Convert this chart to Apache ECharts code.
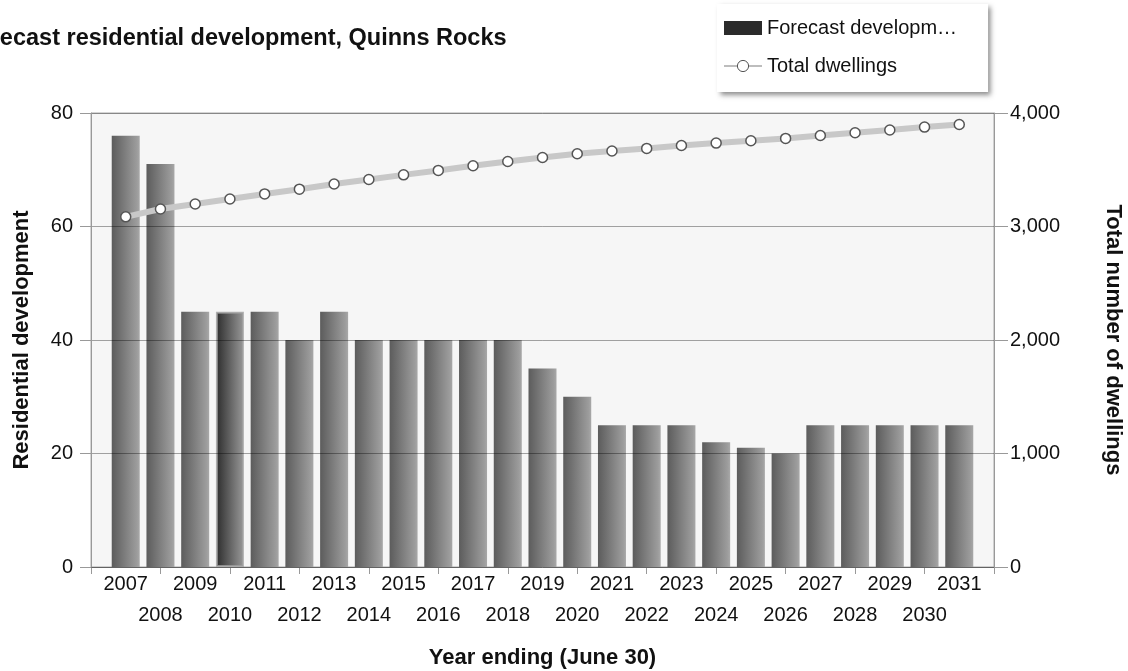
<!DOCTYPE html>
<html>
<head>
<meta charset="utf-8">
<script src="https://cdn.jsdelivr.net/npm/echarts@6/dist/echarts.min.js"></script>
<style>
    html, body { margin: 0; padding: 0; background: #fff; }
    #chart { width: 1128px; height: 671px; }
</style>
</head>
<body>
<div id="chart"></div>
<script>
    const years = ['2007', '2008', '2009', '2010', '2011', '2012', '2013', '2014', '2015', '2016',
        '2017', '2018', '2019', '2020', '2021', '2022', '2023', '2024', '2025', '2026',
        '2027', '2028', '2029', '2030', '2031'];
    const development = [76, 71, 45, 45, 45, 40, 45, 40, 40, 40, 40, 40, 35, 30, 25, 25, 25, 22, 21, 20, 25, 25, 25, 25, 25];
    const dwellings = [3085, 3154, 3198, 3242, 3287, 3329, 3374, 3414, 3455, 3494, 3535, 3573, 3608,
        3641, 3665, 3688, 3714, 3735, 3756, 3776, 3802, 3826, 3850, 3876, 3899];
    const highlightYear = '2010';

    // one empty slot each side so the plot has the half-gap padding of the original
    const firstPad = String(+years[0] - 1);
    const lastPad = String(+years[years.length - 1] + 1);
    const categories = [firstPad].concat(years, [lastPad]);

    const font = '"Liberation Sans", Arial, sans-serif';

    const barGrad = {
        type: 'linear', x: 0, y: 0, x2: 1, y2: 0,
        colorStops: [{ offset: 0, color: '#5c5c5c' }, { offset: 0.9, color: '#9c9c9c' }, { offset: 1, color: '#a8a8a8' }]
    };
    const barGradDark = {
        type: 'linear', x: 0, y: 0, x2: 1, y2: 0,
        colorStops: [{ offset: 0, color: '#2c2c2c' }, { offset: 1, color: '#999999' }]
    };

    const barData = [null].concat(development.map((v, i) => {
        if (years[i] === highlightYear) {
            return { value: v, itemStyle: { color: barGradDark, borderColor: 'rgba(160,160,160,0.8)', borderWidth: 2 } };
        }
        return v;
    }), [null]);
    const lineData = [null].concat(dwellings, [null]);

    var option = {
        textStyle: { fontFamily: font },
        animation: false,
        title: {
            text: 'Forecast residential development, Quinns Rocks',
            left: -38,
            top: 27,
            padding: 0,
            textStyle: { fontSize: 23.5, fontWeight: 'bold', color: '#111', fontFamily: font }
        },
        legend: {
            orient: 'vertical',
            left: 717,
            top: 4,
            padding: [14, 31, 16, 6],
            itemWidth: 38,
            itemHeight: 14,
            itemGap: 18,
            backgroundColor: '#fff',
            shadowColor: 'rgba(0,0,0,0.45)',
            shadowBlur: 5,
            shadowOffsetX: 3,
            shadowOffsetY: 3,
            textStyle: { fontSize: 20, color: '#111', fontFamily: font },
            formatter: function (name) {
                return name === 'Forecast development' ? 'Forecast developm\u2026' : name;
            },
            data: [
                { name: 'Forecast development', icon: 'rect', itemStyle: { color: '#2b2b2b' } },
                { name: 'Total dwellings', lineStyle: { width: 2, color: '#bdbdbd' },
                    itemStyle: { color: '#fff', borderColor: '#555', borderWidth: 1 } }
            ]
        },
        grid: {
            left: 91,
            right: 134,
            top: 113,
            bottom: 104,
            containLabel: false,
            outerBoundsMode: 'none',
            show: true,
            backgroundColor: '#f6f6f6',
            borderColor: '#aaa',
            borderWidth: 1
        },
        xAxis: {
            type: 'category',
            data: categories,
            boundaryGap: false,
            name: 'Year ending (June 30)',
            nameLocation: 'middle',
            nameGap: 80,
            nameTextStyle: { fontSize: 22, fontWeight: 'bold', color: '#111' },
            axisLine: { lineStyle: { color: '#999' } },
            axisTick: { interval: 1, length: 7, lineStyle: { color: '#999' } },
            axisLabel: {
                interval: 0,
                fontSize: 20,
                color: '#111',
                margin: 2,
                lineHeight: 31,
                formatter: function (v, i) {
                    if (v === firstPad || v === lastPad) return '';
                    return i % 2 === 1 ? v : '\n' + v;
                }
            },
            splitLine: { show: false }
        },
        yAxis: [{
            type: 'value',
            min: 0,
            max: 80,
            interval: 20,
            z: 3,
            name: 'Residential development',
            nameLocation: 'middle',
            nameRotate: 90,
            nameGap: 58,
            nameTextStyle: { fontSize: 22, fontWeight: 'bold', color: '#111' },
            axisLine: { show: true, lineStyle: { color: '#999' } },
            axisTick: { show: true, length: 11, lineStyle: { color: '#999' } },
            axisLabel: { fontSize: 20, color: '#111', margin: 18 },
            splitLine: { lineStyle: { color: 'rgba(0,0,0,0.35)' } }
        }, {
            type: 'value',
            min: 0,
            max: 4000,
            interval: 1000,
            position: 'right',
            name: 'Total number of dwellings',
            nameLocation: 'middle',
            nameRotate: -90,
            nameGap: 108,
            nameTextStyle: { fontSize: 22, fontWeight: 'bold', color: '#111' },
            axisLine: { show: true, lineStyle: { color: '#999' } },
            axisTick: { show: true, length: 14, lineStyle: { color: '#999' } },
            axisLabel: {
                fontSize: 20, color: '#111', margin: 16,
                formatter: function (v) { return v.toLocaleString('en-US'); }
            },
            splitLine: { show: false }
        }],
        series: [{
            name: 'Forecast development',
            type: 'bar',
            yAxisIndex: 0,
            barWidth: 28,
            z: 2,
            itemStyle: { color: barGrad },
            data: barData
        }, {
            name: 'Total dwellings',
            type: 'line',
            yAxisIndex: 1,
            z: 5,
            symbol: 'circle',
            symbolSize: 10,
            lineStyle: { color: '#c8c8c8', width: 6 },
            itemStyle: { color: '#fff', borderColor: '#555', borderWidth: 1.5 },
            data: lineData
        }]
    };

    var myChart = echarts.init(document.getElementById('chart'));
    myChart.setOption(option);
</script>
</body>
</html>
